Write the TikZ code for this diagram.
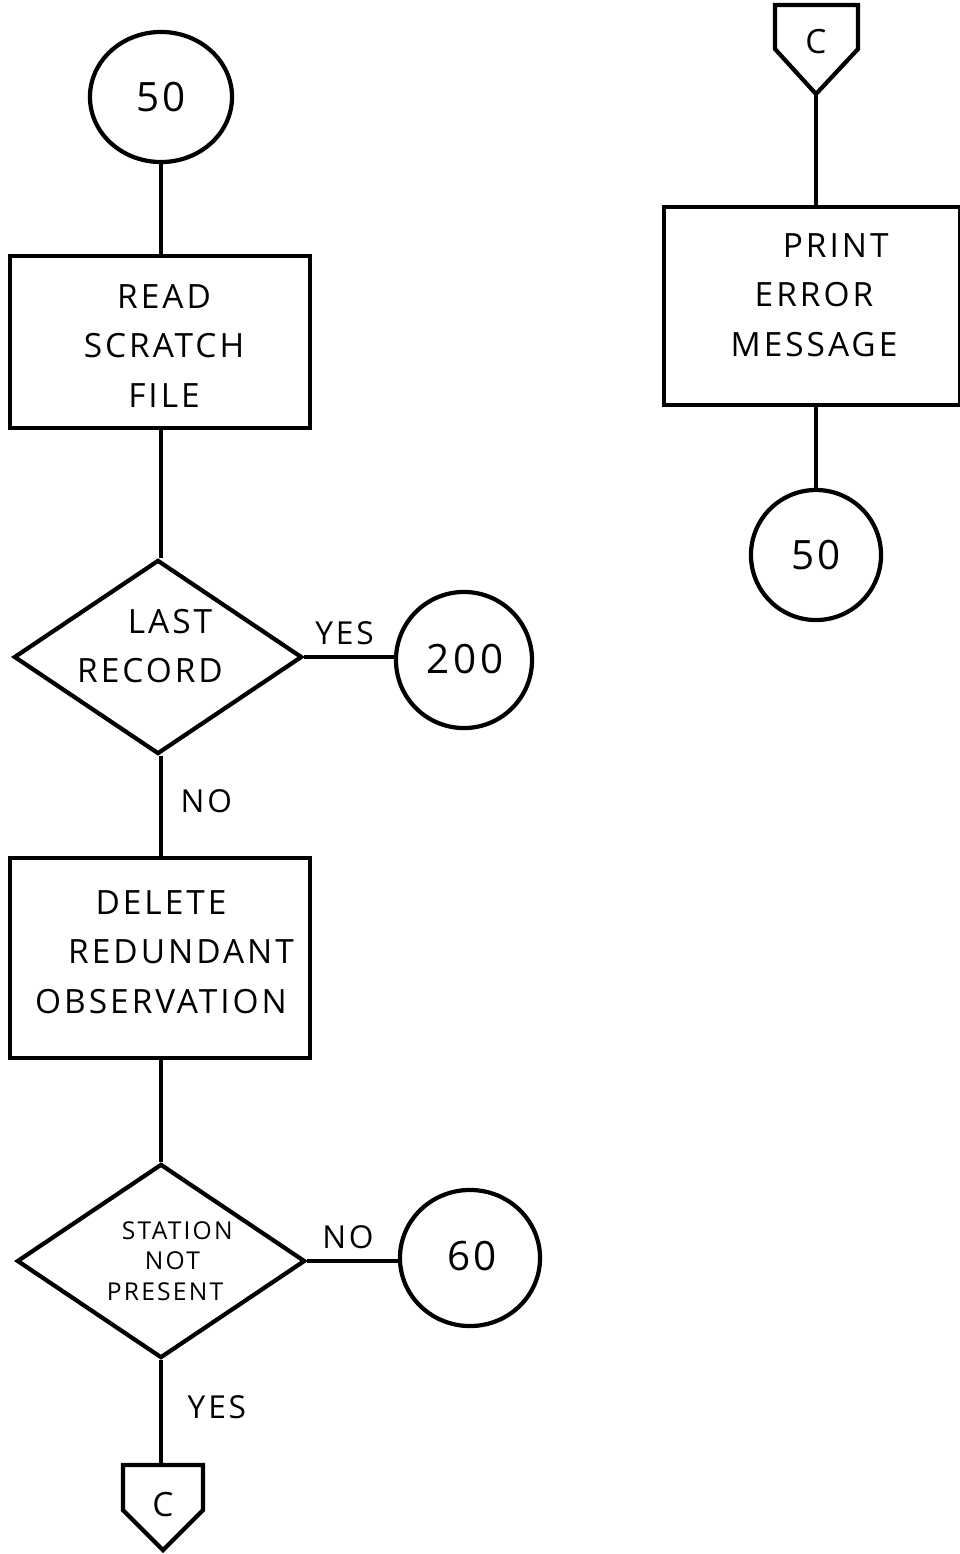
\documentclass[tikz,border=0pt]{standalone}
\usepackage{fontspec}
\setmainfont{Open Sans}[LetterSpace=9]
\usetikzlibrary{shapes.geometric,calc}

\begin{document}
\begin{tikzpicture}[x=0.01cm,y=-0.01cm,line width=1.2pt,
  every node/.style={inner sep=0pt},
  txt/.style={align=center,font=\fontsize{9.5}{14}\selectfont},
  numtxt/.style={font=\fontsize{11.5}{12}\selectfont},
  smalltxt/.style={align=center,font=\fontsize{7}{8.6}\selectfont},
  proc/.style={draw,rectangle,minimum width=3cm},
  decide/.style={draw,diamond,minimum width=2.88cm,minimum height=1.94cm},
  onpage/.style={draw,ellipse},
  lbl/.style={font=\fontsize{9}{10}\selectfont}]
\useasboundingbox (0,0) rectangle (959,1554);

% ---- main column ----
\node[onpage,minimum width=1.42cm,minimum height=1.30cm] (s50) at (161,97) {};
\node[numtxt] (s50t) at (161,97) {50};

\node[proc,minimum height=1.72cm] (read) at (160,342) {};
\node[txt] (readt) at (164,346) {READ\\SCRATCH\\FILE};

\node[decide] (last) at (158,657) {};
\node[txt] (lastt) at (150,646) {\hspace*{1.2em}LAST\\RECORD};

\node[onpage,minimum width=1.36cm,minimum height=1.36cm] (c200) at (464,660) {};
\node[numtxt] (c200t) at (465,659) {200};

\node[proc,minimum height=2.0cm] (del) at (160,958) {};
\node[txt] (delt) at (161,952) {DELETE\\\hspace*{1.2em}REDUNDANT\\OBSERVATION};

\node[decide] (stat) at (161,1261) {};
\node[smalltxt] (statt) at (165,1261) {\hspace*{1em}STATION\\\hspace*{0.6em}NOT\\PRESENT};

\node[onpage,minimum width=1.40cm,minimum height=1.36cm] (c60) at (470,1258) {};
\node[numtxt] (c60t) at (472,1256) {60};

% off-page connector at the foot of the column
\node[txt] (cbot) at (163,1505) {C};
\draw ($(cbot)+(-40,-40)$) -- ($(cbot)+(40,-40)$) -- ($(cbot)+(40,5)$)
  -- ($(cbot)+(0,45)$) -- ($(cbot)+(-40,5)$) -- cycle;
\coordinate (cbottop) at ($(cbot)+(-2,-40)$);

% ---- right column ----
\node[txt] (ctop) at (816,42) {C};
\draw ($(ctop)+(-41,-37)$) -- ($(ctop)+(42,-37)$) -- ($(ctop)+(42,7)$)
  -- ($(ctop)+(0,52)$) -- ($(ctop)+(-41,7)$) -- cycle;
\coordinate (ctopbot) at ($(ctop)+(0,52)$);

\node[proc,minimum width=2.96cm,minimum height=1.98cm] (print) at (812,306) {};
\node[txt] (printt) at (814,295) {\hspace*{1.3em}PRINT\\ERROR\\MESSAGE};

\node[onpage,minimum width=1.30cm,minimum height=1.30cm] (e50) at (816,555) {};
\node[numtxt] (e50t) at (816,555) {50};

% ---- flow lines (kept vertical / horizontal) ----
\draw (s50) -- (s50 |- read.north);
\draw (s50 |- read.south) -- (s50 |- last.north);
\draw (last.east) -- node[lbl,above=3pt,pos=0.45] {YES} (last.east -| c200.west);
\draw (s50 |- last.south) -- node[lbl,right=5pt,pos=0.45] {NO} (s50 |- del.north);
\draw (s50 |- del.south) -- (stat.north);
\draw (stat.east) -- node[lbl,above=3pt,pos=0.45] {NO} (stat.east -| c60.west);
\draw (stat.south) -- node[lbl,right=7pt,pos=0.45] {YES} (cbottop);
\draw (ctopbot) -- (ctopbot |- print.north);
\draw (ctopbot |- print.south) -- (e50);
\end{tikzpicture}
\end{document}
